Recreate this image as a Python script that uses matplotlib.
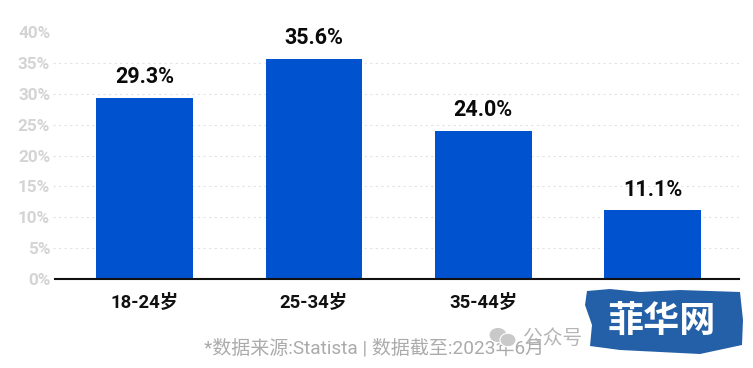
import matplotlib
matplotlib.use("Agg")
import matplotlib.pyplot as plt
from matplotlib.patches import Ellipse, Polygon
import numpy as np

plt.rcParams["font.family"] = ["Roboto", "Noto Sans CJK SC", "DejaVu Sans"]

# the last category label is hidden behind the logo in the picture
ages = ["18-24岁", "25-34岁", "35-44岁", ""]
shares = [29.3, 35.6, 24.0, 11.1]
y_ticks = [0, 5, 10, 15, 20, 25, 30, 35, 40]
source = "*数据来源:Statista | 数据截至:2023年6月"

W, H = 753, 368


def px(x, y):
    # pixel position from the top left -> figure fraction
    return x / W, 1 - y / H


fig = plt.figure(figsize=(W / 100, H / 100), dpi=100)
ax = fig.add_axes([53 / W, (H - 279) / H, (739 - 53) / W, (279 - 32) / H])

x = np.arange(len(ages))
ax.bar(x, shares, width=0.57, color="#0052CF", zorder=3)
for xi, val in zip(x, shares):
    ax.annotate(f"{val:.1f}%", (xi, val), xytext=(0, 7), textcoords="offset points",
                ha="center", va="bottom", fontsize=15.5, fontweight="bold", color="#0A0A0A", zorder=4)

ax.set_xlim(-0.54, 3.51)
ax.set_ylim(0, 40)
ax.set_xticks(x)
ax.set_xticklabels(ages, fontsize=13.3, fontweight="bold", color="#111111")
ax.set_yticks(y_ticks)
ax.set_yticklabels([f"{t}%" for t in y_ticks], fontsize=12.3, fontweight="bold", color="#D4D4D4")
ax.tick_params(axis="x", length=0, pad=11)
ax.tick_params(axis="y", length=0, pad=2)

ax.grid(axis="y", color="#E2E2E2", linewidth=0.8, linestyle=(0, (2, 3)), zorder=0)
ax.yaxis.get_gridlines()[-1].set_visible(False)
for side in ["top", "right", "left"]:
    ax.spines[side].set_visible(False)
ax.spines["bottom"].set_color("#111111")
ax.spines["bottom"].set_linewidth(1.5)
ax.spines["bottom"].set_zorder(5)
ax.spines["bottom"].set_bounds(-0.53, 3.51)

# source line
fx, fy = px(374, 348)
fig.text(fx, fy, source, ha="center", va="center", fontsize=13.7, color="#ABABAB", zorder=6)

# wechat watermark
for cx, cy, rx in [(498, 335, 9), (508, 340, 8)]:
    fig.add_artist(Ellipse(px(cx, cy), 2 * rx / W, 1.7 * rx / H, transform=fig.transFigure,
                           facecolor="#C9C9C9", edgecolor="white", linewidth=0.8, zorder=7))
fx, fy = px(523, 338)
fig.text(fx, fy, "公众号", ha="left", va="center", fontsize=14.2, color="#B5B5B5", zorder=7)

# logo
outline = [(587, 291), (610, 289), (640, 292), (680, 290), (740, 292), (743, 320),
           (742, 345), (700, 354), (660, 352), (620, 350), (590, 346), (592, 325), (585, 305)]
fig.add_artist(Polygon([px(a, b) for a, b in outline], closed=True, transform=fig.transFigure,
                       facecolor="#2460A7", edgecolor="none", zorder=8))
fx, fy = px(662, 322)
fig.text(fx, fy, "菲华网", ha="center", va="center", fontsize=26, fontweight="bold", color="white", zorder=9)

fig.savefig("out.png", dpi=100)
